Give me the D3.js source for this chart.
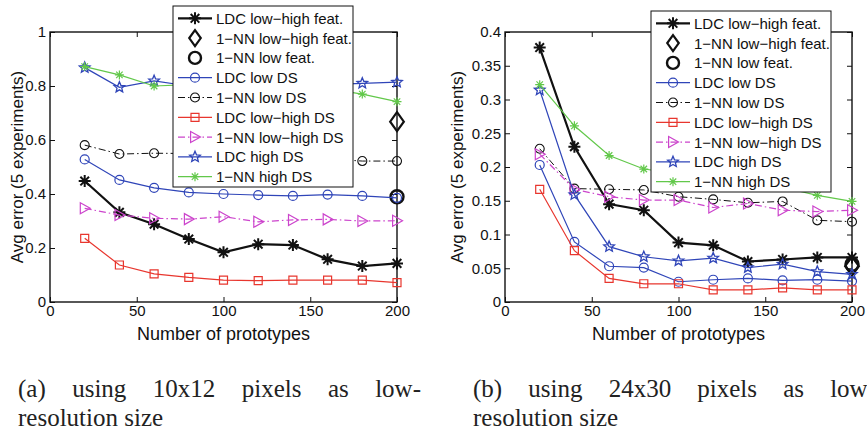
<!DOCTYPE html>
<html>
<head>
<meta charset="utf-8">
<script src="https://cdn.jsdelivr.net/npm/d3@7"></script>
<style>
  body { margin: 0; background: #fff; }
  svg { display: block; }
</style>
</head>
<body>
<svg id="fig" width="867" height="433"></svg>
<script>
const width = 867;
const height = 433;

// Data

const prototypes = [20, 40, 60, 80, 100, 120, 140, 160, 180, 200];
const featX = [200];
const xTicks = [0, 50, 100, 150, 200];

// (a) 10x12 pixels
const yTicksA = [0, 0.2, 0.4, 0.6, 0.8, 1];
const ldcLowHighFeatA = [0.448, 0.332, 0.288, 0.233, 0.184, 0.214, 0.211, 0.158, 0.133, 0.143];
const nnLowHighFeatA = [0.668];
const nnLowFeatA = [0.390];
const ldcLowDSA = [0.528, 0.452, 0.423, 0.406, 0.400, 0.396, 0.393, 0.398, 0.393, 0.386];
const nnLowDSA = [0.581, 0.548, 0.551, 0.550, 0.545, 0.540, 0.535, 0.530, 0.522, 0.522];
const ldcLowHighDSA = [0.236, 0.137, 0.104, 0.091, 0.081, 0.079, 0.081, 0.081, 0.081, 0.072];
const nnLowHighDSA = [0.347, 0.322, 0.310, 0.307, 0.316, 0.297, 0.304, 0.306, 0.300, 0.301];
const ldcHighDSA = [0.868, 0.795, 0.819, 0.800, 0.800, 0.800, 0.800, 0.805, 0.810, 0.814];
const nnHighDSA = [0.872, 0.841, 0.800, 0.805, 0.800, 0.800, 0.795, 0.790, 0.770, 0.742];

// (b) 24x30 pixels
const yTicksB = [0, 0.05, 0.1, 0.15, 0.2, 0.25, 0.3, 0.35, 0.4];
const ldcLowHighFeatB = [0.377, 0.230, 0.145, 0.136, 0.088, 0.084, 0.060, 0.063, 0.066, 0.066];
const nnLowHighFeatB = [0.053];
const nnLowFeatB = [0.056];
const ldcLowDSB = [0.203, 0.089, 0.053, 0.051, 0.030, 0.033, 0.035, 0.032, 0.033, 0.031];
const nnLowDSB = [0.227, 0.168, 0.167, 0.166, 0.156, 0.152, 0.147, 0.149, 0.121, 0.119];
const ldcLowHighDSB = [0.167, 0.076, 0.035, 0.027, 0.027, 0.018, 0.018, 0.021, 0.018, 0.018];
const nnLowHighDSB = [0.219, 0.167, 0.156, 0.151, 0.151, 0.140, 0.146, 0.136, 0.134, 0.136];
const ldcHighDSB = [0.314, 0.159, 0.082, 0.067, 0.061, 0.065, 0.051, 0.056, 0.045, 0.041];
const nnHighDSB = [0.322, 0.261, 0.217, 0.197, 0.190, 0.185, 0.178, 0.170, 0.158, 0.149];

const legendNames = [
  'LDC low\u2212high feat.',
  '1\u2212NN low\u2212high feat.',
  '1\u2212NN low feat.',
  'LDC low DS',
  '1\u2212NN low DS',
  'LDC low\u2212high DS',
  '1\u2212NN low\u2212high DS',
  'LDC high DS',
  '1\u2212NN high DS'
];

// Marker shapes

const markers = {
  asterisk: r => {
    const d = r * 0.72;
    return `M${-r},0L${r},0M0,${-r}L0,${r}M${-d},${-d}L${d},${d}M${-d},${d}L${d},${-d}`;
  },
  circle: r => `M${r},0A${r},${r} 0 1,1 ${-r},0A${r},${r} 0 1,1 ${r},0Z`,
  square: r => `M${-r},${-r}H${r}V${r}H${-r}Z`,
  triRight: r => `M${-r * 0.8},${-r}L${r},0L${-r * 0.8},${r}Z`,
  diamond: r => `M0,${-r}L${r * 0.72},0L0,${r}L${-r * 0.72},0Z`,
  pentagram: r => {
    const pts = [];
    for (let i = 0; i < 10; i++) {
      const rr = i % 2 === 0 ? r : r * 0.45;
      const a = -Math.PI / 2 + i * Math.PI / 5;
      pts.push([rr * Math.cos(a), rr * Math.sin(a)]);
    }
    return 'M' + pts.map(p => p.join(',')).join('L') + 'Z';
  }
};

const blue = '#2f45b8';
const red = '#e8362e';
const magenta = '#cc44cc';
const green = '#62c84a';
const black = '#111';
const dashDot = '7,3,1.5,3';

function seriesStyles(d) {
  return [
    {x: prototypes, y: d[0], color: black, width: 2.2, marker: 'asterisk', r: 6, mw: 2},
    {x: featX, y: d[1], color: black, width: 0, marker: 'diamond', r: 9.5, mw: 2.2},
    {x: featX, y: d[2], color: black, width: 0, marker: 'circle', r: 6.5, mw: 2.4},
    {x: prototypes, y: d[3], color: blue, width: 1.2, marker: 'circle', r: 4.5, mw: 1.2},
    {x: prototypes, y: d[4], color: black, width: 1, dash: dashDot, marker: 'circle', r: 4.5, mw: 1.1},
    {x: prototypes, y: d[5], color: red, width: 1.2, marker: 'square', r: 4, mw: 1.2},
    {x: prototypes, y: d[6], color: magenta, width: 1.2, dash: dashDot, marker: 'triRight', r: 5.5, mw: 1.2},
    {x: prototypes, y: d[7], color: blue, width: 1.2, marker: 'pentagram', r: 5.6, mw: 1.3},
    {x: prototypes, y: d[8], color: green, width: 1.2, marker: 'asterisk', r: 4.5, mw: 1.2}
  ];
}

const svg = d3.select('#fig');
const fontSans = '"Liberation Sans", Arial, sans-serif';

function drawChart(cfg) {
  const top = 32, bottom = 302;
  const x = d3.scaleLinear().domain([0, 200]).range([cfg.left, cfg.left + 347]);
  const y = d3.scaleLinear().domain([0, cfg.yMax]).range([bottom, top]);

  const g = svg.append('g');

  // axes, ticks pointing inward on all four sides
  const axisStyle = sel => {
    sel.select('.domain').remove();
    sel.selectAll('line').attr('stroke', black).attr('stroke-width', 1);
    sel.selectAll('text').attr('fill', black).attr('font-family', fontSans).attr('font-size', 15);
  };

  g.append('g')
    .attr('transform', `translate(0,${bottom})`)
    .call(d3.axisBottom(x).tickValues(xTicks).tickSize(-5).tickPadding(3).tickFormat(d3.format('d')))
    .call(axisStyle);
  g.append('g')
    .attr('transform', `translate(0,${top})`)
    .call(d3.axisTop(x).tickValues(xTicks).tickSize(-5).tickFormat(''))
    .call(axisStyle);
  g.append('g')
    .attr('transform', `translate(${cfg.left},0)`)
    .call(d3.axisLeft(y).tickValues(cfg.yTicks).tickSize(-5).tickPadding(4).tickFormat(d => String(+d.toFixed(2))))
    .call(axisStyle);
  g.append('g')
    .attr('transform', `translate(${cfg.left + 347},0)`)
    .call(d3.axisRight(y).tickValues(cfg.yTicks).tickSize(-5).tickFormat(''))
    .call(axisStyle);

  g.append('rect')
    .attr('x', cfg.left)
    .attr('y', top)
    .attr('width', 347)
    .attr('height', bottom - top)
    .attr('fill', 'none')
    .attr('stroke', black)
    .attr('stroke-width', 1.4);

  // axis labels
  g.append('text')
    .attr('x', cfg.left + 347 / 2)
    .attr('y', 340)
    .attr('text-anchor', 'middle')
    .attr('font-family', fontSans)
    .attr('font-size', 18)
    .attr('fill', black)
    .text('Number of prototypes');

  g.append('text')
    .attr('transform', `translate(${cfg.yLabelX},${(top + bottom) / 2}) rotate(-90)`)
    .attr('text-anchor', 'middle')
    .attr('font-family', fontSans)
    .attr('font-size', 17)
    .attr('fill', black)
    .text('Avg error (5 experiments)');

  // series
  const styles = seriesStyles(cfg.series);
  const line = d3.line().x(d => x(d[0])).y(d => y(d[1]));

  styles.forEach(s => {
    const pts = s.x.map((v, i) => [v, s.y[i]]);
    if (s.width > 0) {
      g.append('path')
        .attr('d', line(pts))
        .attr('fill', 'none')
        .attr('stroke', s.color)
        .attr('stroke-width', s.width)
        .attr('stroke-dasharray', s.dash || null);
    }
    g.selectAll(null)
      .data(pts)
      .enter().append('path')
      .attr('transform', d => `translate(${x(d[0])},${y(d[1])})`)
      .attr('d', markers[s.marker](s.r))
      .attr('fill', 'none')
      .attr('stroke', s.color)
      .attr('stroke-width', s.mw);
  });

  // legend
  const lg = g.append('g').attr('transform', `translate(${cfg.legend.x},${cfg.legend.y})`);
  lg.append('rect')
    .attr('width', 180)
    .attr('height', 181)
    .attr('fill', '#fff')
    .attr('stroke', black)
    .attr('stroke-width', 1);

  styles.forEach((s, i) => {
    const ry = 12.3 + i * 19.8;
    if (s.width > 0) {
      lg.append('line')
        .attr('x1', 5).attr('x2', 39)
        .attr('y1', ry).attr('y2', ry)
        .attr('stroke', s.color)
        .attr('stroke-width', s.width)
        .attr('stroke-dasharray', s.dash || null);
    }
    lg.append('path')
      .attr('transform', `translate(22,${ry})`)
      .attr('d', markers[s.marker](s.marker === 'diamond' ? 8 : s.marker === 'circle' && s.width === 0 ? 6 : s.r))
      .attr('fill', 'none')
      .attr('stroke', s.color)
      .attr('stroke-width', s.mw);
    lg.append('text')
      .attr('x', 43)
      .attr('y', ry)
      .attr('dy', '0.36em')
      .attr('font-family', fontSans)
      .attr('font-size', 15)
      .attr('fill', black)
      .text(legendNames[i]);
  });
}

drawChart({
  left: 50,
  yMax: 1,
  yTicks: yTicksA,
  yLabelX: 23,
  legend: {x: 173, y: 6},
  series: [ldcLowHighFeatA, nnLowHighFeatA, nnLowFeatA, ldcLowDSA, nnLowDSA,
           ldcLowHighDSA, nnLowHighDSA, ldcHighDSA, nnHighDSA]
});

drawChart({
  left: 505,
  yMax: 0.4,
  yTicks: yTicksB,
  yLabelX: 463,
  legend: {x: 651, y: 11},
  series: [ldcLowHighFeatB, nnLowHighFeatB, nnLowFeatB, ldcLowDSB, nnLowDSB,
           ldcLowHighDSB, nnLowHighDSB, ldcHighDSB, nnHighDSB]
});

// Captions: first line justified across 403px, second line ragged

function caption(x0, words, second) {
  const fontSerif = '"Liberation Serif", "Times New Roman", serif';
  const g = svg.append('g')
    .attr('font-family', fontSerif)
    .attr('font-size', 25)
    .attr('fill', '#222');
  const texts = words.map(w => g.append('text').attr('y', 397).text(w));
  const widths = texts.map(t => t.node().getComputedTextLength());
  const gap = (403 - d3.sum(widths)) / (words.length - 1);
  let cx = x0;
  texts.forEach((t, i) => {
    t.attr('x', cx);
    cx += widths[i] + gap;
  });
  g.append('text').attr('x', x0).attr('y', 426).text(second);
}

caption(18, ['(a)', 'using', '10x12', 'pixels', 'as', 'low-'], 'resolution size');
caption(473, ['(b)', 'using', '24x30', 'pixels', 'as', 'low-'], 'resolution size');
</script>
</body>
</html>
